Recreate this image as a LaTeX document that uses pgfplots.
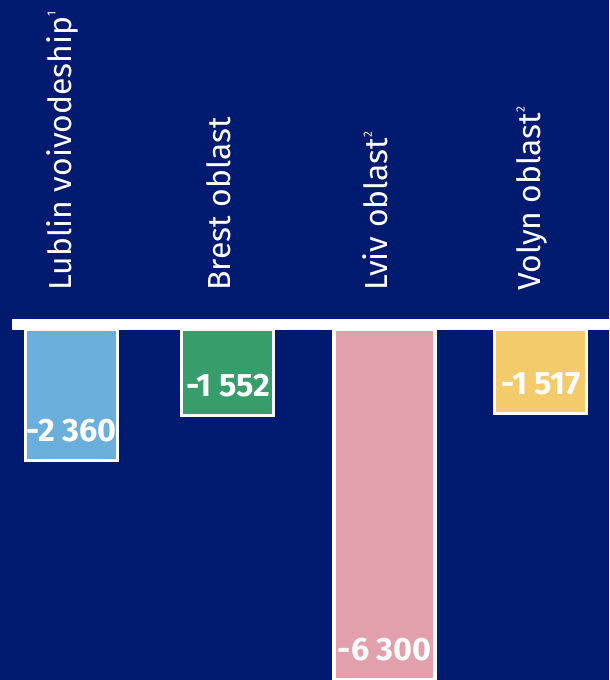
\documentclass[border=0pt]{standalone}
\usepackage{pgfplots}
\pgfplotsset{compat=1.18}
\usepackage{fontspec}
\setmainfont{Fira Sans}
\definecolor{navy}{HTML}{001A70}
\definecolor{cLublin}{HTML}{6AAFDB}
\definecolor{cBrest}{HTML}{379E6B}
\definecolor{cLviv}{HTML}{E2A0AC}
\definecolor{cVolyn}{HTML}{F4CB6B}
\newcommand{\supnote}[1]{\raisebox{0.5em}{\fontsize{12}{12}\selectfont #1}}
\begin{document}
\begin{tikzpicture}
\begin{axis}[
  width=609bp, height=680bp, scale only axis,
  xmin=-0.457, xmax=3.435, ymin=-6302, ymax=5930,
  axis lines=none, xtick=\empty, ytick=\empty,
  axis background/.style={fill=navy},
  ybar, bar width=92bp, bar shift=0pt,
  every axis plot/.append style={draw=white, line width=3bp},
  nodes near coords,
  every node near coord/.append style={font=\fontsize{32.5}{32.5}\selectfont\bfseries, text=white, anchor=center, yshift=30bp, draw=none},
  /pgf/number format/1000 sep={\hspace{0.22em}},
  /pgf/number format/assume math mode=true,
]
\addplot[fill=cLublin] coordinates {(0,-2360)};
\addplot[fill=cBrest] coordinates {(1,-1552)};
\addplot[fill=cLviv, bar width=101bp, line width=3.5bp] coordinates {(2,-6300)};
\addplot[fill=cVolyn] coordinates {(3,-1517)};
\fill[white] (axis cs:-0.38,0) rectangle ([yshift=11bp]axis cs:3.435,0);
\begin{scope}[every node/.style={rotate=90, anchor=west, inner sep=0pt, text=white, font=\fontsize{32}{32}\selectfont}]
\node at ([xshift=-9bp,yshift=39bp]axis cs:0,0) {Lublin voivodeship\supnote{1}};
\node at ([xshift=-9bp,yshift=39bp]axis cs:1,0) {Brest oblast};
\node at ([xshift=-9bp,yshift=39bp]axis cs:2,0) {Lviv oblast\supnote{2}};
\node at ([xshift=-9bp,yshift=39bp]axis cs:3,0) {Volyn oblast\supnote{2}};
\end{scope}
\end{axis}
\pgfresetboundingbox
\path (current axis.south west) rectangle (current axis.north east);
\end{tikzpicture}
\end{document}
